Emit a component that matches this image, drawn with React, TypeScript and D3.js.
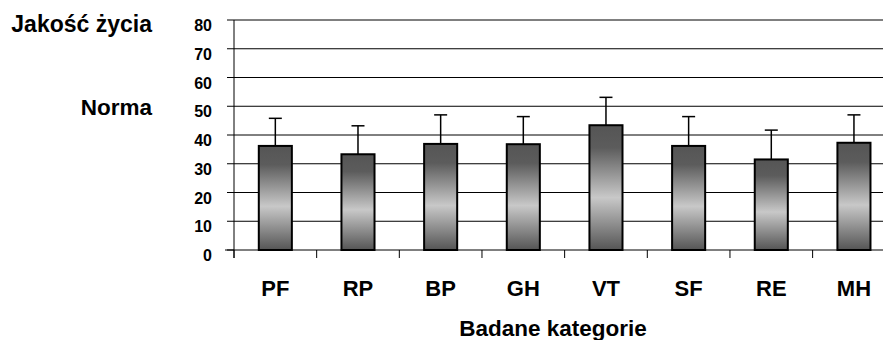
import React from "react";
import * as d3 from "d3";

const categories = ["PF", "RP", "BP", "GH", "VT", "SF", "RE", "MH"];
const means = [36.2, 33.3, 36.9, 36.8, 43.4, 36.2, 31.5, 37.3];
const errors = [9.6, 9.9, 10.1, 9.6, 9.7, 10.2, 10.2, 9.7];
const yTicks = [0, 10, 20, 30, 40, 50, 60, 70, 80];
const yTitleTop = "Jakość życia";
const yTitleMid = "Norma";
const xTitle = "Badane kategorie";

const W = 883;
const H = 340;
const FONT = "'Liberation Sans', Arial, sans-serif";

export default function App() {
  const x0 = 234;
  const band = 82.66;
  const x = d3.scaleBand<string>().domain(categories).range([x0, x0 + band * categories.length]).paddingInner(0).paddingOuter(0);
  const y = d3.scaleLinear().domain([0, 80]).range([250, 20]);
  const bw = x.bandwidth() * 0.4;
  const capW = 13;

  return (
    <svg width={W} height={H} style={{ position: "absolute", left: 0, top: 0, background: "#fff" }} fontFamily={FONT}>
      <defs>
        <linearGradient id="barGrad" x1="0" y1="0" x2="0" y2="1">
          <stop offset="0" stopColor="#555555" />
          <stop offset="0.18" stopColor="#5c5c5c" />
          <stop offset="0.58" stopColor="#c8c8c8" />
          <stop offset="1" stopColor="#555555" />
        </linearGradient>
        <clipPath id="plotClip">
          <rect x={0} y={0} width={W} height={H} />
        </clipPath>
      </defs>
      <g clipPath="url(#plotClip)">
        {yTicks.filter((t) => t > 0).map((t) => (
          <line key={t} x1={x0} x2={W} y1={y(t)} y2={y(t)} stroke="#000" strokeWidth={1} />
        ))}
        {yTicks.map((t) => (
          <line key={"yt" + t} x1={x0 - 7} x2={x0} y1={y(t)} y2={y(t)} stroke="#000" strokeWidth={1} />
        ))}
        <line x1={x0 - 9} x2={W} y1={y(0)} y2={y(0)} stroke="#000" strokeWidth={1} />
        {categories.map((c) => (
          <line key={"xt" + c} x1={x(c) as number} x2={x(c) as number} y1={y(0)} y2={y(0) + 8} stroke="#000" strokeWidth={1} />
        ))}
        <line x1={x0} x2={x0} y1={y(80)} y2={y(0) + 8} stroke="#000" strokeWidth={1} />
        {categories.map((c, i) => {
          const cx = (x(c) as number) + x.bandwidth() / 2;
          return (
            <g key={c}>
              <line x1={cx} x2={cx} y1={y(means[i])} y2={y(means[i] + errors[i])} stroke="#000" strokeWidth={1.5} />
              <line x1={cx - capW / 2} x2={cx + capW / 2} y1={y(means[i] + errors[i])} y2={y(means[i] + errors[i])} stroke="#000" strokeWidth={1.5} />
              <rect x={cx - bw / 2} y={y(means[i])} width={bw} height={y(0) - y(means[i])} fill="url(#barGrad)" stroke="#000" strokeWidth={2} />
            </g>
          );
        })}
      </g>
      {yTicks.map((t) => (
        <text key={"yl" + t} x={212} y={y(t) + 11} textAnchor="end" fontSize={16} fontWeight="bold" fill="#000">
          {t}
        </text>
      ))}
      {categories.map((c) => (
        <text key={"xl" + c} x={(x(c) as number) + x.bandwidth() / 2} y={296} textAnchor="middle" fontSize={22} fontWeight="bold" fill="#000">
          {c}
        </text>
      ))}
      <text x={152} y={32} textAnchor="end" fontSize={23} fontWeight="bold" fill="#000">{yTitleTop}</text>
      <text x={152} y={114.5} textAnchor="end" fontSize={22.5} fontWeight="bold" fill="#000">{yTitleMid}</text>
      <text x={553} y={336} textAnchor="middle" fontSize={22.5} fontWeight="bold" fill="#000">{xTitle}</text>
    </svg>
  );
}
